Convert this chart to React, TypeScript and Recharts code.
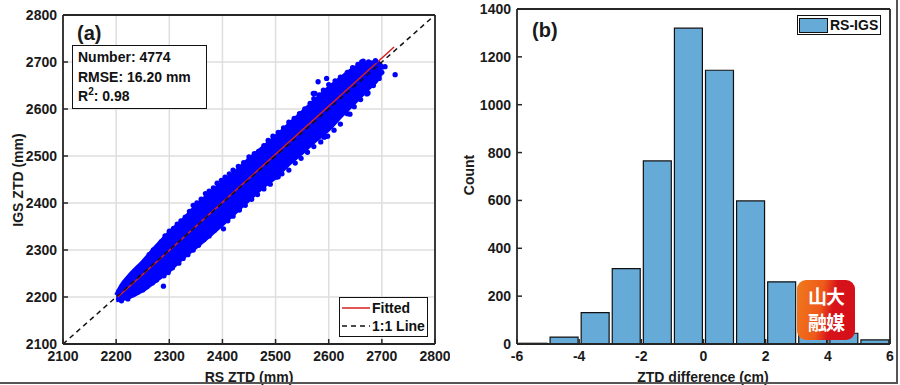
import React from "react";
import {
  Area,
  Bar,
  CartesianGrid,
  ComposedChart,
  Line,
  Scatter,
  XAxis,
  YAxis,
  ZAxis,
} from "recharts";

// ---- panel (a): RS vs IGS ZTD (mm) ----
const axisTicksA = [2100, 2200, 2300, 2400, 2500, 2600, 2700, 2800];

// dense core of the point cloud
const coreX = [2200, 2210, 2225, 2250, 2275, 2300, 2325, 2350, 2375, 2400, 2425, 2450, 2475, 2500, 2525, 2550, 2575, 2600, 2625, 2650, 2675, 2690, 2700];
const coreLo = [2193, 2195, 2200, 2214, 2235, 2256, 2283, 2306, 2330, 2355, 2381, 2407, 2433, 2455, 2483, 2507, 2533, 2557, 2587, 2615, 2644, 2660, 2678];
const coreHi = [2204, 2225, 2246, 2275, 2307, 2337, 2363, 2393, 2419, 2443, 2467, 2493, 2517, 2541, 2567, 2593, 2619, 2645, 2668, 2688, 2698, 2700, 2692];

// ragged edge points and outliers
const edgePoints: [number, number][] = [
  [2205, 2212], [2212, 2222], [2220, 2232], [2228, 2240], [2235, 2250], [2242, 2258], [2248, 2268],
  [2256, 2275], [2262, 2290], [2270, 2300], [2278, 2306], [2285, 2318], [2292, 2330], [2300, 2340],
  [2308, 2346], [2315, 2355], [2322, 2362], [2330, 2370], [2338, 2382], [2345, 2395], [2352, 2400],
  [2360, 2408], [2368, 2420], [2375, 2425], [2383, 2432], [2390, 2442], [2398, 2448], [2405, 2455],
  [2413, 2462], [2420, 2470], [2430, 2478], [2440, 2486], [2450, 2498], [2460, 2505], [2468, 2510],
  [2478, 2522], [2486, 2533], [2495, 2542], [2505, 2550], [2515, 2560], [2525, 2572], [2535, 2580],
  [2545, 2590], [2555, 2600], [2565, 2612], [2572, 2622], [2582, 2630], [2590, 2640], [2600, 2652],
  [2612, 2660], [2622, 2668], [2635, 2678], [2645, 2688], [2655, 2695], [2665, 2702], [2675, 2700],
  [2688, 2703],
  [2210, 2192], [2222, 2196], [2232, 2205], [2240, 2210], [2250, 2215], [2258, 2222], [2268, 2230],
  [2276, 2236], [2289, 2223], [2290, 2245], [2298, 2252], [2306, 2262], [2318, 2272], [2326, 2282],
  [2335, 2290], [2345, 2300], [2355, 2310], [2365, 2322], [2375, 2330], [2385, 2342], [2395, 2352],
  [2402, 2345], [2410, 2362], [2420, 2372], [2432, 2385], [2443, 2395], [2455, 2408], [2466, 2418],
  [2478, 2430], [2490, 2440], [2502, 2455], [2512, 2462], [2525, 2470], [2537, 2485], [2548, 2495],
  [2560, 2508], [2572, 2520], [2585, 2530], [2598, 2542], [2610, 2555], [2622, 2568], [2635, 2590],
  [2648, 2605], [2660, 2620], [2672, 2632], [2684, 2650], [2695, 2665], [2700, 2678],
  [2580, 2658], [2596, 2665], [2571, 2633], [2574, 2633], [2591, 2540], [2593, 2541], [2640, 2589],
  [2634, 2604], [2700, 2689], [2706, 2690], [2674, 2634], [2505, 2456], [2616, 2642], [2725, 2673],
  [2662, 2700], [2565, 2540],
];

const fitX = [2203, 2723];
const fitY = [2200, 2732];
const oneToOne = [2100, 2800];

const statLines = ["Number: 4774", "RMSE: 16.20 mm"];

// ---- panel (b): histogram of RS-IGS (cm) ----
const binMid = [-5.5, -4.5, -3.5, -2.5, -1.5, -0.5, 0.5, 1.5, 2.5, 3.5, 4.5, 5.5];
const binCount = [3, 29, 131, 315, 765, 1320, 1144, 598, 260, 147, 45, 17];
const axisTicksBX = [-6, -4, -2, 0, 2, 4, 6];
const axisTicksBY = [0, 200, 400, 600, 800, 1000, 1200, 1400];

const coreData = coreX.map((x, i) => ({ x, band: [coreLo[i], coreHi[i]] }));
const scatterData = edgePoints.map(([x, y]) => ({ x, y }));
const fitData = fitX.map((x, i) => ({ x, fit: fitY[i] }));
const oneData = oneToOne.map((v) => ({ x: v, one: v }));
const histData = binMid.map((mid, i) => ({ mid, count: binCount[i] }));

const FONT = '"Liberation Sans", Arial, sans-serif';
const AXIS_COLOR = "#262626";
const BAR_FILL = "#66aad7";
const tickStyle = { fontFamily: FONT, fontWeight: 700, fontSize: 14, fill: "#1a1a1a" };

const labelStyle: React.CSSProperties = {
  position: "absolute",
  fontFamily: FONT,
  fontWeight: 700,
  fontSize: 14,
  color: "#1a1a1a",
  whiteSpace: "nowrap",
};

function FitLegend() {
  return (
    <div
      style={{
        position: "absolute",
        left: 339,
        top: 297,
        border: "1.5px solid #111",
        background: "#fff",
        width: 87,
        padding: "1px 0",
        fontFamily: FONT,
        fontWeight: 700,
        fontSize: 14,
        color: "#111",
      }}
    >
      <div style={{ display: "flex", alignItems: "center", height: 18 }}>
        <svg width={32} height={10}>
          <line x1={2} x2={30} y1={5} y2={5} stroke="#d62020" strokeWidth={1.5} />
        </svg>
        <span>Fitted</span>
      </div>
      <div style={{ display: "flex", alignItems: "center", height: 18 }}>
        <svg width={32} height={10}>
          <line x1={2} x2={30} y1={5} y2={5} stroke="#111" strokeWidth={1.5} strokeDasharray="5 4" />
        </svg>
        <span>1:1 Line</span>
      </div>
    </div>
  );
}

function HistLegend() {
  return (
    <div
      style={{
        position: "absolute",
        left: 347,
        top: 15,
        border: "1.5px solid #111",
        background: "#fff",
        width: 82,
        height: 18,
        display: "flex",
        alignItems: "center",
        fontFamily: FONT,
        fontWeight: 700,
        fontSize: 14,
        color: "#111",
      }}
    >
      <div style={{ width: 27, height: 13, background: BAR_FILL, border: "1.5px solid #111", margin: "0 2px 0 1px" }} />
      <span>RS-IGS</span>
    </div>
  );
}

const axisCommon = {
  tickSize: -5,
  interval: 0 as const,
  stroke: AXIS_COLOR,
  strokeWidth: 1.8,
  tickLine: { stroke: AXIS_COLOR, strokeWidth: 1.5 },
};

export default function App() {
  return (
    <div style={{ position: "absolute", left: 0, top: 0, width: 900, height: 385, background: "#fff", overflow: "hidden" }}>
      {/* panel (a) */}
      <div style={{ position: "absolute", left: 0, top: 0 }}>
        <ComposedChart width={450} height={385} margin={{ top: 14, right: 14, bottom: 40, left: 62 }}>
          <CartesianGrid stroke="#dedede" strokeWidth={1.5} />
          <XAxis
            {...axisCommon}
            type="number"
            dataKey="x"
            domain={[2100, 2800]}
            ticks={axisTicksA}
            allowDataOverflow
            height={1}
            tick={tickStyle}
            tickMargin={12}
          />
          <XAxis
            {...axisCommon}
            xAxisId="top"
            orientation="top"
            type="number"
            dataKey="x"
            domain={[2100, 2800]}
            ticks={axisTicksA}
            height={1}
            tick={false}
          />
          <YAxis
            {...axisCommon}
            type="number"
            dataKey="y"
            domain={[2100, 2800]}
            ticks={axisTicksA}
            allowDataOverflow
            width={1}
            tick={tickStyle}
            tickMargin={11}
          />
          <YAxis
            {...axisCommon}
            yAxisId="right"
            orientation="right"
            type="number"
            domain={[2100, 2800]}
            ticks={axisTicksA}
            width={1}
            tick={false}
          />
          <ZAxis range={[22, 22]} />
          <Area
            data={coreData}
            dataKey="band"
            type="monotone"
            fill="#0000ff"
            fillOpacity={1}
            stroke="#0000ff"
            strokeWidth={4}
            isAnimationActive={false}
          />
          <Scatter data={scatterData} fill="#0000ff" isAnimationActive={false} />
          <Line data={fitData} dataKey="fit" stroke="#d62020" strokeWidth={1.5} dot={false} isAnimationActive={false} />
          <Line
            data={oneData}
            dataKey="one"
            stroke="#111"
            strokeWidth={1.5}
            strokeDasharray="5 4"
            dot={false}
            isAnimationActive={false}
          />
        </ComposedChart>
        <FitLegend />
        <div style={{ ...labelStyle, left: 77, top: 22, fontSize: 20 }}>(a)</div>
        <div
          style={{
            position: "absolute",
            left: 72,
            top: 45,
            width: 128,
            height: 60,
            border: "1.5px solid #111",
            background: "#fff",
            fontFamily: FONT,
            fontWeight: 700,
            fontSize: 14,
            color: "#111",
            lineHeight: "19.5px",
            padding: "2px 0 0 5px",
            boxSizing: "content-box",
          }}
        >
          {statLines.map((s) => (
            <div key={s}>{s}</div>
          ))}
          <div>
            R<sup style={{ fontSize: 10, verticalAlign: "6px", lineHeight: 0 }}>2</sup>: 0.98
          </div>
        </div>
        <div style={{ ...labelStyle, left: 249, top: 369, transform: "translateX(-50%)" }}>RS ZTD (mm)</div>
        <div style={{ ...labelStyle, left: 18, top: 180, transform: "translate(-50%, -50%) rotate(-90deg)" }}>
          IGS ZTD (mm)
        </div>
      </div>

      {/* panel (b) */}
      <div style={{ position: "absolute", left: 450, top: 0 }}>
        <ComposedChart
          width={450}
          height={385}
          data={histData}
          margin={{ top: 8, right: 9, bottom: 40, left: 66 }}
          barCategoryGap={0}
          barGap={0}
        >
          <XAxis
            {...axisCommon}
            type="number"
            dataKey="mid"
            domain={[-6, 6]}
            ticks={axisTicksBX}
            height={1}
            tick={tickStyle}
            tickMargin={12}
          />
          <XAxis
            {...axisCommon}
            xAxisId="top"
            orientation="top"
            type="number"
            dataKey="mid"
            domain={[-6, 6]}
            ticks={axisTicksBX}
            height={1}
            tick={false}
          />
          <YAxis
            {...axisCommon}
            type="number"
            domain={[0, 1400]}
            ticks={axisTicksBY}
            width={1}
            tick={tickStyle}
            tickMargin={11}
          />
          <YAxis
            {...axisCommon}
            yAxisId="right"
            orientation="right"
            type="number"
            domain={[0, 1400]}
            ticks={axisTicksBY}
            width={1}
            tick={false}
          />
          <Bar dataKey="count" fill={BAR_FILL} stroke="#111" strokeWidth={1.2} barSize={31.1} isAnimationActive={false} />
        </ComposedChart>
        <HistLegend />
        <div style={{ ...labelStyle, left: 82, top: 19, fontSize: 20 }}>(b)</div>
        <div style={{ ...labelStyle, left: 253, top: 369, transform: "translateX(-50%)" }}>ZTD difference (cm)</div>
        <div style={{ ...labelStyle, left: 19, top: 175, transform: "translate(-50%, -50%) rotate(-90deg)" }}>Count</div>
        {/* watermark */}
        <div
          style={{
            position: "absolute",
            left: 347,
            top: 280,
            width: 58,
            height: 60,
            borderRadius: 9,
            background: "linear-gradient(100deg, #f07a1c 0%, #ee5a1a 40%, #d8121a 60%, #d40f18 100%)",
            color: "#fff",
            fontFamily: '"Noto Sans CJK SC", sans-serif',
            fontWeight: 700,
            fontSize: 19,
            textAlign: "center",
            boxSizing: "border-box",
            letterSpacing: -1,
          }}
        >
          <div style={{ position: "absolute", left: 0, right: 0, top: 5, lineHeight: "22px" }}>山大</div>
          <div style={{ position: "absolute", left: 0, right: 0, top: 31, lineHeight: "22px" }}>融媒</div>
        </div>
      </div>

      {/* image frame */}
      <div style={{ position: "absolute", left: 0, top: 382, width: 898, height: 2, background: "#555" }} />
      <div style={{ position: "absolute", left: 896, top: 0, width: 2, height: 384, background: "#555" }} />
    </div>
  );
}
